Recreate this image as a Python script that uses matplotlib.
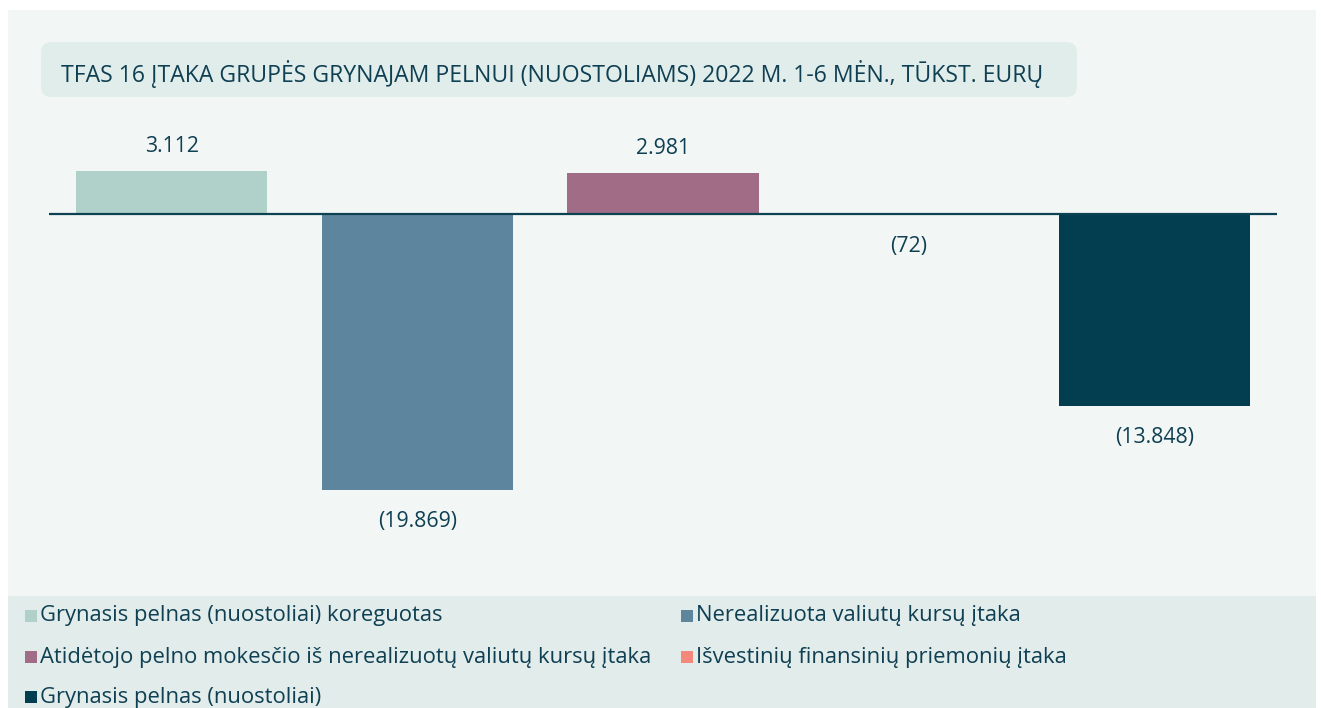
import matplotlib.pyplot as plt
from matplotlib.patches import Rectangle, FancyBboxPatch

# data
categories = [
    "Grynasis pelnas (nuostoliai) koreguotas",
    "Nerealizuota valiutų kursų įtaka",
    "Atidėtojo pelno mokesčio iš nerealizuotų valiutų kursų įtaka",
    "Išvestinių finansinių priemonių įtaka",
    "Grynasis pelnas (nuostoliai)",
]
values = [3112, -19869, 2981, -72, -13848]
value_labels = ["3.112", "(19.869)", "2.981", "(72)", "(13.848)"]
colors = ["#b0d1ca", "#5e859e", "#a06c86", "#f4887a", "#023e50"]

title = "TFAS 16 ĮTAKA GRUPĖS GRYNAJAM PELNUI (NUOSTOLIAMS) 2022 M. 1-6 MĖN., TŪKST. EURŲ"

text_color = "#0f3f52"
panel_bg = "#f2f6f5"
legend_bg = "#e1eceb"

plt.rcParams['font.family'] = ['Open Sans', 'DejaVu Sans']

W, H = 1321, 708
fig = plt.figure(figsize=(W / 100, H / 100), dpi=100)
fig.patch.set_facecolor("white")


def fx(px):
    return px / W


def fy(py):
    return 1 - py / H


# background panels
fig.patches.append(Rectangle((fx(8), fy(708)), fx(1308), 698 / H,
                             transform=fig.transFigure, facecolor=panel_bg,
                             edgecolor="none", zorder=-3))
fig.patches.append(Rectangle((fx(8), fy(708)), fx(1308), 112 / H,
                             transform=fig.transFigure, facecolor=legend_bg,
                             edgecolor="none", zorder=-2))

# title box
title_box = FancyBboxPatch((fx(41), fy(97)), fx(1036), 55 / H,
                           boxstyle="round,pad=0,rounding_size=0.008",
                           transform=fig.transFigure, facecolor="#e1edea",
                           edgecolor="none", zorder=-1, mutation_aspect=W / H)
fig.patches.append(title_box)
fig.text(fx(61), fy(74), title, ha="left", va="center", fontsize=16.6,
         color=text_color)

# bar axes: zero line at y=214 px, ~0.0139 px per unit
ax_top, ax_bot = 120, 560
scale = 0.0139
ax = fig.add_axes([fx(49), fy(ax_bot), fx(1277 - 49), (ax_bot - ax_top) / H])
ax.set_zorder(5)
ax.set_facecolor("none")
ax.set_xlim(-0.5, len(values) - 0.5)
ax.set_ylim(-(ax_bot - 214) / scale, (214 - ax_top) / scale)

x = list(range(len(values)))
bars = ax.bar(x, values, width=0.778, color=colors, zorder=2)
ax.axhline(0, color="#0d4253", linewidth=1.6, zorder=3)

for bar, v, lab in zip(bars, values, value_labels):
    xc = bar.get_x() + bar.get_width() / 2
    if v >= 0:
        ax.annotate(lab, (xc, v), xytext=(0, 24 * 0.72), textcoords="offset points",
                    ha="center", va="center", fontsize=15.3, color=text_color)
    else:
        ax.annotate(lab, (xc, v), xytext=(0, -31 * 0.72), textcoords="offset points",
                    ha="center", va="center", fontsize=15.3, color=text_color)

ax.axis("off")

# legend, two columns filled row by row
col_x = [25, 681]
row_y = [616, 657, 697]
for i, (cat, c) in enumerate(zip(categories, colors)):
    cx = col_x[i % 2]
    cy = row_y[i // 2]
    fig.patches.append(Rectangle((fx(cx), fy(cy + 6)), fx(12), 12 / H,
                                 transform=fig.transFigure, facecolor=c,
                                 edgecolor="none", zorder=2))
    fig.text(fx(cx + 15), fy(cy), cat, ha="left", va="center", fontsize=15.8,
             color=text_color)

fig.savefig("out.png", dpi=100)
